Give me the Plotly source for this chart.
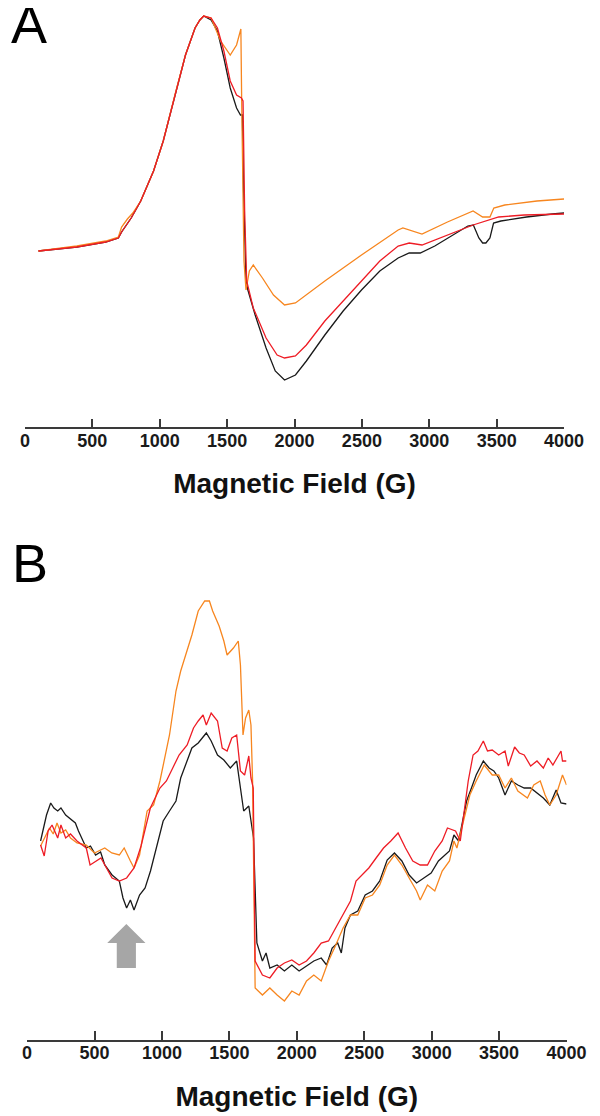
import plotly.graph_objects as go

# ---------------- Panel A data (field in G, intensity in arbitrary units) ----------------
a_black_x = [100, 385, 599, 693, 717, 788, 859, 954, 1026, 1120, 1191, 1262, 1298, 1326,
             1381, 1428, 1476, 1523, 1570, 1599, 1613, 1622, 1640, 1654, 1708, 1789, 1857,
             1926, 2007, 2088, 2225, 2361, 2497, 2633, 2769, 2851, 2933, 3041, 3135, 3286,
             3327, 3368, 3396, 3420, 3450, 3477, 3531, 3722, 3912, 4000]
a_black_y = [0, 4, 9, 13, 19, 33, 50, 80, 110, 160, 196, 223, 231, 235,
             231, 220, 193, 163, 143, 136, 136, 60, -30, -39, -64, -97, -120,
             -129, -124, -110, -84, -60, -39, -20, -7, -2, -2, 5, 13, 25,
             26, 13, 8, 8, 13, 28, 30, 34, 37, 38]

a_red_x = [100, 385, 599, 693, 717, 788, 859, 954, 1026, 1120, 1191, 1262, 1298, 1326,
           1381, 1428, 1476, 1523, 1570, 1606, 1618, 1630, 1645, 1694, 1789, 1871, 1926,
           2007, 2088, 2225, 2361, 2497, 2633, 2769, 2851, 2946, 3135, 3325, 3515, 3704, 4000]
a_red_y = [0, 4, 9, 13, 19, 33, 50, 80, 110, 160, 196, 223, 231, 235,
           233, 223, 200, 170, 156, 153, 150, 40, -30, -57, -87, -104, -107,
           -105, -94, -70, -50, -30, -10, 5, 8, 6, 16, 26, 34, 36, 37]

a_orange_x = [100, 385, 599, 693, 717, 760, 800, 859, 954, 1026, 1120, 1191, 1262, 1298, 1326,
              1381, 1452, 1523, 1570, 1594, 1602, 1608, 1625, 1640, 1665, 1694, 1762, 1844,
              1926, 2007, 2225, 2497, 2769, 2804, 2946, 3135, 3325, 3396, 3450, 3479, 3560,
              3799, 4000]
a_orange_y = [0, 5, 10, 14, 24, 32, 38, 50, 80, 110, 160, 196, 223, 231, 235,
              233, 210, 196, 206, 217, 222, 150, -10, -39, -20, -14, -27, -44,
              -54, -52, -30, -4, 21, 23, 17, 29, 40, 34, 34, 43, 46,
              50, 52]

# ---------------- Panel B data ----------------
b_black_x = [100, 144, 175, 199, 227, 251, 286, 322, 358, 381, 439, 470, 508, 545, 576, 630,
             684, 711, 738, 766, 793, 834, 875, 915, 957, 1009, 1056, 1104, 1139, 1187, 1222,
             1269, 1329, 1365, 1412, 1459, 1507, 1554, 1582, 1606, 1644, 1667, 1679, 1704,
             1745, 1772, 1800, 1854, 1908, 1963, 2017, 2072, 2126, 2181, 2221, 2262, 2303,
             2330, 2357, 2398, 2452, 2507, 2561, 2615, 2670, 2724, 2779, 2833, 2888, 2942,
             2996, 3050, 3132, 3165, 3200, 3224, 3259, 3295, 3330, 3383, 3426, 3461, 3497,
             3544, 3591, 3639, 3686, 3734, 3781, 3828, 3876, 3923, 3959, 4000]
b_black_y = [17, 43, 55, 50, 47, 50, 43, 39, 35, 27, 10, 12, 3, 6, -7, -17,
             -23, -40, -50, -42, -52, -37, -30, -13, 10, 37, 47, 57, 80, 97, 110,
             115, 125, 117, 103, 98, 90, 97, 70, 47, 52, 33, 20, -85,
             -103, -95, -110, -107, -113, -107, -113, -108, -103, -100, -107, -90, -85,
             -95, -70, -57, -53, -37, -33, -23, -2, 5, -3, -17, -25, -20,
             -15, -3, 7, 23, 17, 33, 57, 70, 83, 97, 90, 87, 80,
             63, 77, 73, 70, 70, 65, 60, 53, 68, 55, 54]

b_red_x = [100, 127, 156, 185, 227, 251, 286, 322, 370, 439, 467, 548, 630, 684, 738, 793,
           845, 914, 985, 1033, 1080, 1127, 1187, 1234, 1269, 1305, 1329, 1365, 1412, 1447,
           1483, 1518, 1554, 1582, 1613, 1644, 1660, 1677, 1691, 1745, 1800, 1854, 1908,
           1963, 2017, 2072, 2126, 2181, 2235, 2289, 2343, 2398, 2439, 2480, 2534, 2588,
           2643, 2697, 2751, 2806, 2860, 2915, 2969, 3023, 3078, 3117, 3177, 3212, 3236,
           3271, 3307, 3343, 3383, 3414, 3449, 3497, 3544, 3568, 3615, 3650, 3686, 3734,
           3781, 3828, 3864, 3899, 3959, 3970, 4000]
b_red_y = [13, 2, 27, 33, 20, 33, 20, 24, 17, 10, -7, 0, -20, -23, -20, -10,
           12, 50, 70, 77, 90, 103, 113, 130, 137, 143, 133, 145, 137, 110,
           107, 120, 123, 87, 83, 102, 80, 70, -103, -117, -120, -110, -105,
           -102, -107, -103, -95, -85, -83, -70, -57, -43, -23, -17, -10, 0,
           10, 17, 25, 10, -3, -7, -7, 7, 17, 30, 27, 17, 43,
           77, 103, 107, 117, 107, 108, 103, 107, 92, 111, 105, 103, 92,
           97, 90, 100, 93, 107, 97, 97]

b_orange_x = [100, 130, 166, 194, 222, 251, 286, 322, 370, 439, 500, 576, 628, 684, 720, 766,
              793, 834, 860, 890, 938, 985, 1056, 1104, 1139, 1187, 1222, 1269, 1317, 1352,
              1376, 1424, 1459, 1483, 1530, 1566, 1582, 1601, 1620, 1644, 1660, 1672, 1691,
              1745, 1800, 1854, 1908, 1963, 2017, 2072, 2126, 2181, 2235, 2289, 2343, 2398,
              2452, 2507, 2561, 2615, 2670, 2724, 2779, 2833, 2888, 2915, 2969, 3023, 3078,
              3132, 3165, 3187, 3248, 3283, 3330, 3390, 3449, 3497, 3544, 3591, 3639, 3710,
              3757, 3805, 3841, 3876, 3923, 3970, 4000]
b_orange_y = [12, 20, 30, 24, 35, 25, 28, 20, 15, 13, 5, 10, 5, 3, 10, -3,
              -10, 3, 25, 47, 53, 77, 123, 167, 187, 207, 223, 247, 257, 257,
              247, 232, 217, 203, 210, 217, 193, 123, 140, 148, 133, 77, -130,
              -137, -130, -137, -143, -133, -137, -123, -117, -123, -103, -87, -70, -57,
              -57, -40, -37, -27, -7, 3, -7, -20, -33, -42, -27, -33, -13,
              -3, 17, 10, 43, 63, 77, 93, 83, 83, 70, 80, 67, 60,
              73, 77, 63, 53, 63, 83, 73]

tick_vals = [0, 500, 1000, 1500, 2000, 2500, 3000, 3500, 4000]
tick_text = ["0", "500", "1000", "1500", "2000", "2500", "3000", "3500", "4000"]
axis_title = "Magnetic Field (G)"
panel_labels = ["A", "B"]

BLACK = "#1a1a1a"
RED = "#ee1c25"
ORANGE = "#f7861f"
W, H = 600, 1116
FONT = "Liberation Sans, Arial, sans-serif"

fig = go.Figure()
series = [
    ("x", "y", a_black_x, a_black_y, BLACK),
    ("x", "y", a_orange_x, a_orange_y, ORANGE),
    ("x", "y", a_red_x, a_red_y, RED),
    ("x2", "y2", b_black_x, b_black_y, BLACK),
    ("x2", "y2", b_orange_x, b_orange_y, ORANGE),
    ("x2", "y2", b_red_x, b_red_y, RED),
]
for xa, ya, xs, ys, col in series:
    fig.add_trace(go.Scatter(x=xs, y=ys, xaxis=xa, yaxis=ya, mode="lines",
                             line=dict(color=col, width=1.3), showlegend=False,
                             hoverinfo="skip"))

def xaxis_style(dom, anchor):
    return dict(domain=dom, anchor=anchor, range=[0, 4000], showgrid=False, zeroline=False,
                showline=True, linecolor="#3a3a3a", linewidth=1.6,
                ticks="inside", ticklen=9, tickwidth=1.6, tickcolor="#3a3a3a",
                tickvals=tick_vals, ticktext=tick_text,
                tickfont=dict(family=FONT, size=18, color="#1a1a1a", weight="bold"),
                ticklabelstandoff=-4,
                title=dict(text=axis_title, standoff=24,
                           font=dict(family=FONT, size=28, color="#111111", weight="bold")))

# pixel geometry of the two panels
a_axis_px, a_top_px = 419.3, 0
b_axis_px, b_top_px = 1032, 550
fig.update_layout(
    width=W, height=H, margin=dict(l=0, r=0, t=0, b=0),
    paper_bgcolor="white", plot_bgcolor="white",
    xaxis=xaxis_style([12.5 / W, 575 / W], "y"),
    yaxis=dict(domain=[1 - a_axis_px / H, 1 - a_top_px / H], anchor="x",
               range=[243 - a_axis_px, 243 - a_top_px], visible=False),
    xaxis2=xaxis_style([14.7 / W, 577.6 / W], "y2"),
    yaxis2=dict(domain=[1 - b_axis_px / H, 1 - b_top_px / H], anchor="x2",
                range=[850 - b_axis_px, 850 - b_top_px], visible=False),
)

# panel letters
fig.add_annotation(text=panel_labels[0], xref="paper", yref="paper", x=-4 / W, y=1 - 16 / H,
                   xanchor="left", yanchor="middle", showarrow=False,
                   font=dict(family=FONT, size=54, color="black"))
fig.add_annotation(text=panel_labels[1], xref="paper", yref="paper", x=-3 / W, y=1 - 555 / H,
                   xanchor="left", yanchor="middle", showarrow=False,
                   font=dict(family=FONT, size=54, color="black"))

# grey arrow pointing up at the ~740 G feature in panel B
ax, half_head, half_shaft = 736, 142, 71
tip, base, bottom = -66, -85, -110
path = (f"M {ax},{tip} L {ax + half_head},{base} L {ax + half_shaft},{base} "
        f"L {ax + half_shaft},{bottom} L {ax - half_shaft},{bottom} L {ax - half_shaft},{base} "
        f"L {ax - half_head},{base} Z")
fig.add_shape(type="path", path=path, xref="x2", yref="y2",
              fillcolor="#a6a6a6", line=dict(width=0))

fig.write_html("out.html")
